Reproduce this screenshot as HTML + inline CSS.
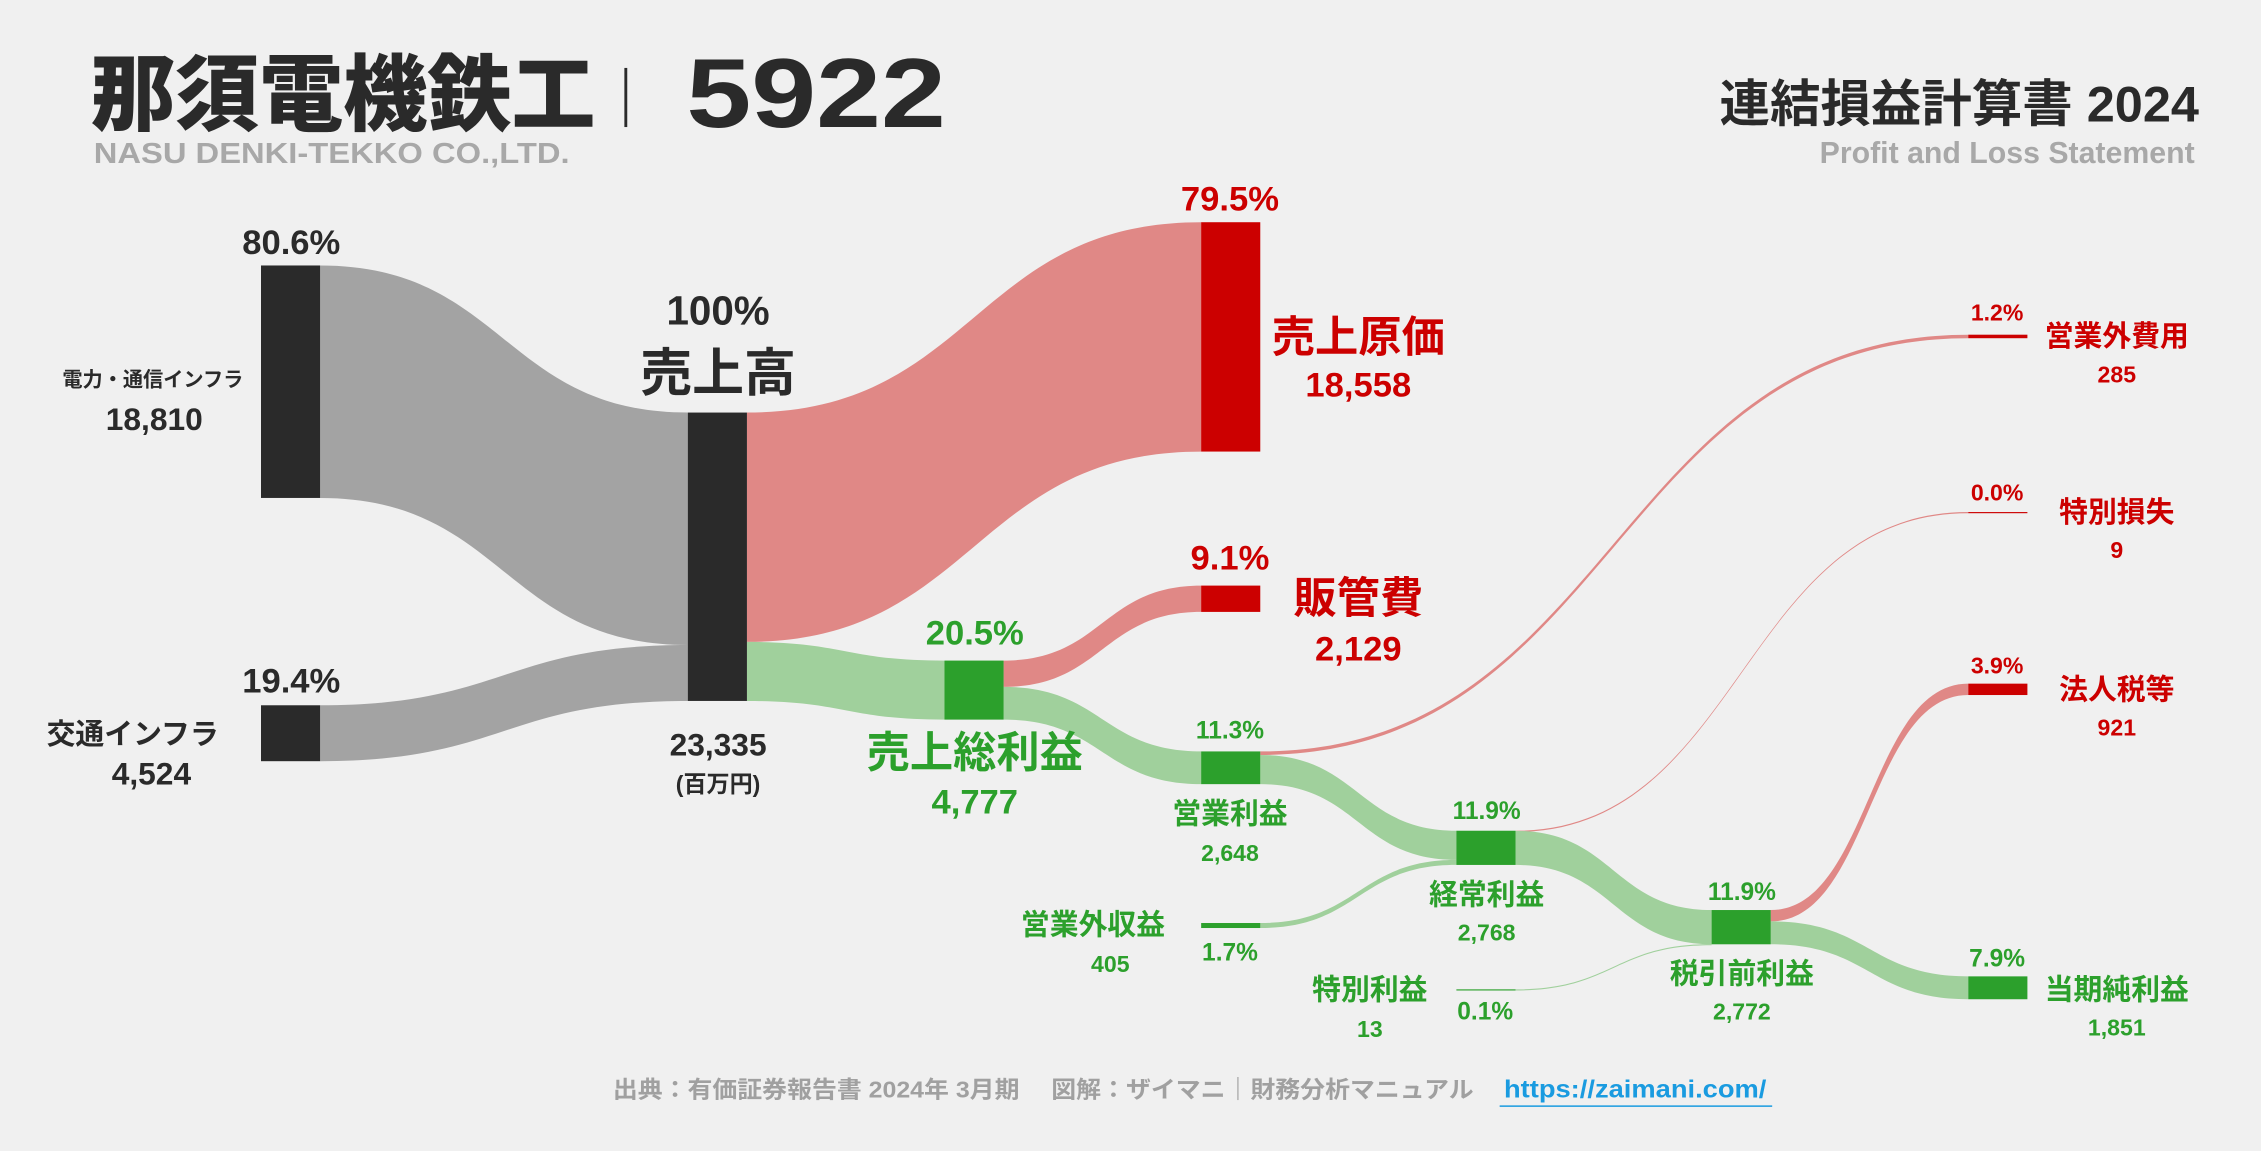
<!DOCTYPE html>
<html><head><meta charset="utf-8">
<style>
html,body{margin:0;padding:0;background:#f0f0f0;}
svg{display:block;font-family:"Liberation Sans","Noto Sans CJK JP",sans-serif;font-weight:700;}
</style></head>
<body>
<svg id="chart" width="2261" height="1151" viewBox="0 0 1568 798" xmlns="http://www.w3.org/2000/svg">
<rect width="1568" height="798" fill="#f0f0f0"/>
<g id="links"></g>
<g id="nodes"></g>
<g>
<text x="63" y="86" font-size="58" font-weight="900" fill="#2a2a2a" textLength="350" lengthAdjust="spacingAndGlyphs">那須電機鉄工</text>
<line x1="434" y1="47" x2="434" y2="88" stroke="#2a2a2a" stroke-width="2"/>
<text x="476" y="88" font-size="68" font-weight="900" fill="#2a2a2a" textLength="180" lengthAdjust="spacingAndGlyphs">5922</text>
<text x="65" y="113" font-size="20" fill="#a8a8a8" textLength="330" lengthAdjust="spacingAndGlyphs">NASU DENKI-TEKKO CO.,LTD.</text>
<text x="1525" y="84" font-size="35" fill="#2a2a2a" text-anchor="end">連結損益計算書 2024</text>
<text x="1522" y="113" font-size="21" fill="#a8a8a8" text-anchor="end">Profit and Loss Statement</text>
</g>
<g id="labels" text-anchor="middle">
<text x="202" y="176" font-size="24" fill="#2a2a2a">80.6%</text>
<text x="106" y="268" font-size="14" fill="#2a2a2a">電力・通信インフラ</text>
<text x="107" y="298" font-size="22" fill="#2a2a2a">18,810</text>
<text x="202" y="480" font-size="24" fill="#2a2a2a">19.4%</text>
<text x="92" y="516" font-size="20" fill="#2a2a2a">交通インフラ</text>
<text x="105" y="544" font-size="22" fill="#2a2a2a">4,524</text>
<text x="498" y="225" font-size="28" fill="#2a2a2a">100%</text>
<text x="498" y="271" font-size="36" fill="#2a2a2a">売上高</text>
<text x="498" y="524" font-size="22" fill="#2a2a2a">23,335</text>
<text x="498" y="549" font-size="16" fill="#2a2a2a">(百万円)</text>
<text x="853" y="146" font-size="24" fill="#cc0000">79.5%</text>
<text x="942" y="244" font-size="30" fill="#cc0000">売上原価</text>
<text x="942" y="275" font-size="24" fill="#cc0000">18,558</text>
<text x="853" y="395" font-size="24" fill="#cc0000">9.1%</text>
<text x="942" y="425" font-size="30" fill="#cc0000">販管費</text>
<text x="942" y="458" font-size="24" fill="#cc0000">2,129</text>
<text x="676" y="447" font-size="24" fill="#2ca02c">20.5%</text>
<text x="676" y="532" font-size="30" fill="#2ca02c">売上総利益</text>
<text x="676" y="564" font-size="24" fill="#2ca02c">4,777</text>
<text x="853" y="512" font-size="17" fill="#2ca02c">11.3%</text>
<text x="853" y="571" font-size="20" fill="#2ca02c">営業利益</text>
<text x="853" y="597" font-size="16" fill="#2ca02c">2,648</text>
<text x="1031" y="568" font-size="17" fill="#2ca02c">11.9%</text>
<text x="1031" y="627" font-size="20" fill="#2ca02c">経常利益</text>
<text x="1031" y="652" font-size="16" fill="#2ca02c">2,768</text>
<text x="1208" y="624" font-size="17" fill="#2ca02c">11.9%</text>
<text x="1208" y="682" font-size="20" fill="#2ca02c">税引前利益</text>
<text x="1208" y="707" font-size="16" fill="#2ca02c">2,772</text>
<text x="1385" y="670" font-size="17" fill="#2ca02c">7.9%</text>
<text x="1468" y="693" font-size="20" fill="#2ca02c">当期純利益</text>
<text x="1468" y="718" font-size="16" fill="#2ca02c">1,851</text>
<text x="758" y="648" font-size="20" fill="#2ca02c">営業外収益</text>
<text x="770" y="674" font-size="16" fill="#2ca02c">405</text>
<text x="853" y="666" font-size="17" fill="#2ca02c">1.7%</text>
<text x="950" y="693" font-size="20" fill="#2ca02c">特別利益</text>
<text x="950" y="719" font-size="16" fill="#2ca02c">13</text>
<text x="1030" y="707" font-size="17" fill="#2ca02c">0.1%</text>
<text x="1385" y="222" font-size="16" fill="#cc0000">1.2%</text>
<text x="1468" y="240" font-size="20" fill="#cc0000">営業外費用</text>
<text x="1468" y="265" font-size="16" fill="#cc0000">285</text>
<text x="1385" y="347" font-size="16" fill="#cc0000">0.0%</text>
<text x="1468" y="362" font-size="20" fill="#cc0000">特別損失</text>
<text x="1468" y="387" font-size="16" fill="#cc0000">9</text>
<text x="1385" y="467" font-size="16" fill="#cc0000">3.9%</text>
<text x="1468" y="485" font-size="20" fill="#cc0000">法人税等</text>
<text x="1468" y="510" font-size="16" fill="#cc0000">921</text>
</g>
<g>
<text x="425" y="761" font-size="16" fill="#a0a0a0" textLength="597" lengthAdjust="spacingAndGlyphs">出典：有価証券報告書 2024年 3月期　 図解：ザイマニ｜財務分析マニュアル</text>
<a href="#"><text x="1043" y="761" font-size="17" fill="#1a9be0" textLength="182" lengthAdjust="spacingAndGlyphs">https://zaimani.com/</text></a>
<line x1="1040" y1="767" x2="1229" y2="767" stroke="#1a9be0" stroke-width="1"/>
</g>
</svg>
<script>
// data
const nodeNames = ["電力・通信インフラ","交通インフラ","売上高","売上原価","販管費","売上総利益","営業利益","営業外費用","特別損失","経常利益","営業外収益","特別利益","税引前利益","法人税等","当期純利益"];
const nodeValues = [18810,4524,23335,18558,2129,4777,2648,285,9,2768,405,13,2772,921,1851];
const linkSources = [0,1,2,2,5,5,6,6,10,9,9,11,12,12];
const linkTargets = [2,2,3,5,4,6,7,9,9,8,12,12,13,14];
const linkValues = [18810,4524,18558,4777,2129,2648,285,2363,405,9,2759,13,921,1851];
// layout (not data)
const nodeX = [181,181,477,833,833,655,833,1365,1365,1010,833,1010,1187,1365,1365];
const nodeTop = [184,489,286,154,406,458,521,232,355,576,640,686,631,474,677];
const nodeColor = ["#2a2a2a","#2a2a2a","#2a2a2a","#cc0000","#cc0000","#2ca02c","#2ca02c","#cc0000","#cc0000","#2ca02c","#2ca02c","#2ca02c","#2ca02c","#cc0000","#2ca02c"];
const linkColor = {"#2a2a2a":"#a3a3a3","#cc0000":"#e08886","#2ca02c":"#a0d09c"};
const W = 41;
const k = 200/23335;
const h = v => Math.max(v*k, 0.8);
const NS = "http://www.w3.org/2000/svg";
const gl = document.getElementById("links"), gn = document.getElementById("nodes");
const outOff = nodeTop.slice(), inOff = nodeTop.slice();
for (let i=0;i<linkValues.length;i++){
  const s=linkSources[i], t=linkTargets[i], th=h(linkValues[i]);
  const x0=nodeX[s]+W, x1=nodeX[t];
  const y0=outOff[s], y1=inOff[t];
  outOff[s]+=linkValues[i]*k; inOff[t]+=linkValues[i]*k;
  const xm=(x0+x1)/2;
  const p=document.createElementNS(NS,"path");
  p.setAttribute("d",`M${x0},${y0} C${xm},${y0} ${xm},${y1} ${x1},${y1} L${x1},${y1+th} C${xm},${y1+th} ${xm},${y0+th} ${x0},${y0+th} Z`);
  p.setAttribute("fill",linkColor[nodeColor[t]]);
  
  
  gl.appendChild(p);
}
for (let i=0;i<nodeValues.length;i++){
  const r=document.createElementNS(NS,"rect");
  r.setAttribute("x",nodeX[i]); r.setAttribute("y",nodeTop[i]);
  r.setAttribute("width",W); r.setAttribute("height",h(nodeValues[i]));
  r.setAttribute("fill",nodeColor[i]);
  
  
  gn.appendChild(r);
}
</script>
</body></html>
